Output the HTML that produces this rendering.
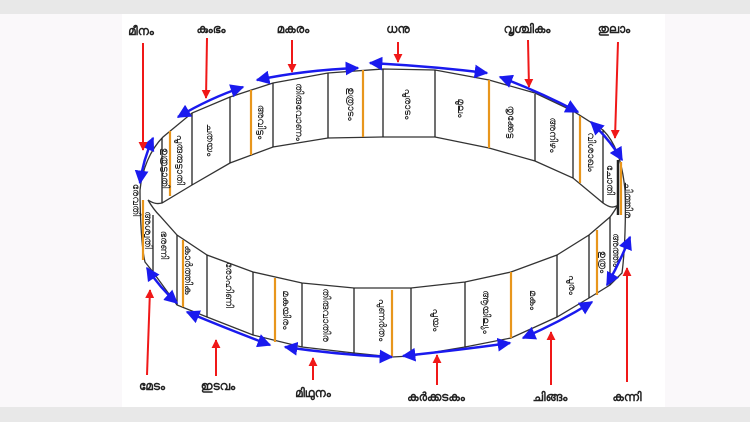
<!DOCTYPE html>
<html><head><meta charset="utf-8"><style>
html,body{margin:0;padding:0;width:750px;height:422px;overflow:hidden;background:#e8e8e8;}
svg{position:absolute;left:0;top:0;}
text{font-family:"Liberation Sans","Noto Sans CJK SC",sans-serif;}
</style></head><body>
<svg width="750" height="422" viewBox="0 0 750 422">
<defs>
<marker id="b" viewBox="0 0 10 10" refX="9" refY="5" markerWidth="5.5" markerHeight="5.5" orient="auto-start-reverse"><path d="M0,0L10,5L0,10z" fill="#1a1aee"/></marker>
<marker id="r" viewBox="0 0 10 10" refX="9" refY="5" markerWidth="4.5" markerHeight="4.5" orient="auto"><path d="M0,0L10,5L0,10z" fill="#f01818"/></marker>
</defs>
<rect x="0" y="14" width="750" height="393" fill="#faf8fa"/>
<rect x="122" y="14" width="543" height="393" fill="#fff"/>
<g fill="none" stroke="#333" stroke-width="1.3">
<path d="M140,190 C142,170 150,150 163,137 L192,113 230,97 273,83 328,73 383,69 435,70 489,80 535,93 573,111 603,130 C615,142 622,160 625,190"/>
<path d="M148,200 C154,204 158,204 162,203 L192,185 230,163 273,147 328,138 383,137 435,137 489,148 535,161 573,178 603,203 C610,208 614,208 618,205"/>
<path d="M148,200 C152,207 156,212 160,216 L177,235 207,255 253,272 302,283 354,288 411,288 465,282 511,272 557,255 589,235 610,217 C614,212 616,208 618,205"/>
<path d="M140,190 C140,220 142,250 145,262 L153,272 177,305 207,317 253,335 302,347 354,353 392,357 411,356 465,347 511,338 557,317 589,298 610,285 622,273 C625,250 626,215 625,190"/>
</g>
<g stroke="#222" stroke-width="1.3">
<line x1="162" y1="138" x2="162" y2="203"/><line x1="192" y1="113" x2="192" y2="185"/><line x1="230" y1="97" x2="230" y2="163"/><line x1="273" y1="83" x2="273" y2="147"/><line x1="328" y1="73" x2="328" y2="138"/><line x1="383" y1="69" x2="383" y2="137"/><line x1="435" y1="70" x2="435" y2="137"/><line x1="535" y1="94" x2="535" y2="161"/><line x1="573" y1="112" x2="573" y2="178"/><line x1="603" y1="130" x2="603" y2="203"/><line x1="618" y1="160" x2="618" y2="215" stroke-width="2.5"/>
<line x1="153" y1="215" x2="153" y2="272"/><line x1="177" y1="235" x2="177" y2="305"/><line x1="207" y1="255" x2="207" y2="317"/><line x1="253" y1="272" x2="253" y2="335"/><line x1="302" y1="283" x2="302" y2="347"/><line x1="354" y1="288" x2="354" y2="353"/><line x1="411" y1="288" x2="411" y2="356"/><line x1="465" y1="282" x2="465" y2="347"/><line x1="557" y1="255" x2="557" y2="317"/><line x1="589" y1="235" x2="589" y2="298"/><line x1="610" y1="217" x2="610" y2="285"/>
</g>
<g stroke="#e8961c" stroke-width="2.2">
<line x1="170" y1="131" x2="170" y2="196"/><line x1="251" y1="90" x2="251" y2="155"/><line x1="363" y1="70" x2="363" y2="137"/><line x1="489" y1="80" x2="489" y2="148"/><line x1="580" y1="116" x2="580" y2="183"/><line x1="621" y1="162" x2="621" y2="215"/>
<line x1="143" y1="200" x2="143" y2="260"/><line x1="183" y1="240" x2="183" y2="307"/><line x1="275" y1="278" x2="275" y2="342"/><line x1="392" y1="290" x2="392" y2="357"/><line x1="511" y1="272" x2="511" y2="338"/><line x1="597" y1="230" x2="597" y2="295"/>
</g>
<g font-size="10" fill="#222">
<text transform="translate(133,200) rotate(90)" text-anchor="middle">രേവതി</text>
<text transform="translate(162,168) rotate(90)" text-anchor="middle">ഉത്രട്ടാതി</text>
<text transform="translate(177,160) rotate(90)" text-anchor="middle">പൂരുരുട്ടാതി</text>
<text transform="translate(207,140) rotate(90)" text-anchor="middle">ചതയം</text>
<text transform="translate(258,122) rotate(90)" text-anchor="middle">അവിട്ടം</text>
<text transform="translate(296,112) rotate(90)" text-anchor="middle">തിരുവോണം</text>
<text transform="translate(348,104) rotate(90)" text-anchor="middle">ഉത്രാടം</text>
<text transform="translate(405,104) rotate(90)" text-anchor="middle">പൂരാടം</text>
<text transform="translate(458,108) rotate(90)" text-anchor="middle">മൂലം</text>
<text transform="translate(508,122) rotate(90)" text-anchor="middle">തൃക്കേട്ട</text>
<text transform="translate(550,135) rotate(90)" text-anchor="middle">അനിഴം</text>
<text transform="translate(588,152) rotate(90)" text-anchor="middle">വിശാഖം</text>
<text transform="translate(607,180) rotate(90)" text-anchor="middle">ചോതി</text>
<text transform="translate(625,200) rotate(90)" text-anchor="middle">ചിത്തിര</text>
<text transform="translate(145,230) rotate(90)" text-anchor="middle">അശ്വതി</text>
<text transform="translate(161,245) rotate(90)" text-anchor="middle">ഭരണി</text>
<text transform="translate(185,270) rotate(90)" text-anchor="middle">കാർത്തിക</text>
<text transform="translate(226,285) rotate(90)" text-anchor="middle">രോഹിണി</text>
<text transform="translate(283,310) rotate(90)" text-anchor="middle">മകയിരം</text>
<text transform="translate(323,315) rotate(90)" text-anchor="middle">തിരുവാതിര</text>
<text transform="translate(379,320) rotate(90)" text-anchor="middle">പുണർതം</text>
<text transform="translate(433,320) rotate(90)" text-anchor="middle">പൂയം</text>
<text transform="translate(483,312) rotate(90)" text-anchor="middle">ആയില്യം</text>
<text transform="translate(530,300) rotate(90)" text-anchor="middle">മകം</text>
<text transform="translate(569,285) rotate(90)" text-anchor="middle">പൂരം</text>
<text transform="translate(600,262) rotate(90)" text-anchor="middle">ഉത്രം</text>
<text transform="translate(613,250) rotate(90)" text-anchor="middle">അത്തം</text>
</g>
<g fill="none" stroke="#1a1aee" stroke-width="2.5" marker-start="url(#b)" marker-end="url(#b)">
<path d="M153,138 Q143,160 140,183"/>
<path d="M178,117 Q210,98 243,87"/>
<path d="M257,80 Q305,70 358,68"/>
<path d="M370,63 Q430,66 487,73"/>
<path d="M500,77 Q540,92 578,112"/>
<path d="M591,122 Q610,140 622,160"/>
<path d="M147,268 Q160,288 177,303"/>
<path d="M187,312 Q230,330 270,345"/>
<path d="M285,347 Q340,355 392,357"/>
<path d="M403,356 Q460,350 510,343"/>
<path d="M523,338 Q560,322 592,302"/>
<path d="M607,285 Q620,262 630,237"/>
</g>
<g stroke="#f01818" stroke-width="2" marker-end="url(#r)">
<line x1="143" y1="43" x2="143" y2="150"/>
<line x1="207" y1="38" x2="206" y2="98"/>
<line x1="292" y1="40" x2="292" y2="72"/>
<line x1="398" y1="42" x2="398" y2="62"/>
<line x1="528" y1="40" x2="529" y2="87"/>
<line x1="618" y1="42" x2="615" y2="138"/>
<line x1="147" y1="375" x2="150" y2="290"/>
<line x1="216" y1="376" x2="216" y2="340"/>
<line x1="313" y1="380" x2="313" y2="358"/>
<line x1="437" y1="385" x2="437" y2="355"/>
<line x1="551" y1="385" x2="551" y2="332"/>
<line x1="627" y1="382" x2="627" y2="268"/>
</g>
<g font-size="12" font-weight="bold" fill="#222" text-anchor="middle">
<text x="141" y="35">മീനം</text>
<text x="211" y="33">കുംഭം</text>
<text x="293" y="33">മകരം</text>
<text x="398" y="33">ധനു</text>
<text x="527" y="33">വൃശ്ചികം</text>
<text x="614" y="33">തുലാം</text>
<text x="152" y="390">മേടം</text>
<text x="218" y="390">ഇടവം</text>
<text x="313" y="397">മിഥുനം</text>
<text x="436" y="401">കർക്കടകം</text>
<text x="550" y="401">ചിങ്ങം</text>
<text x="627" y="401">കന്നി</text>
</g>
</svg>
</body></html>
